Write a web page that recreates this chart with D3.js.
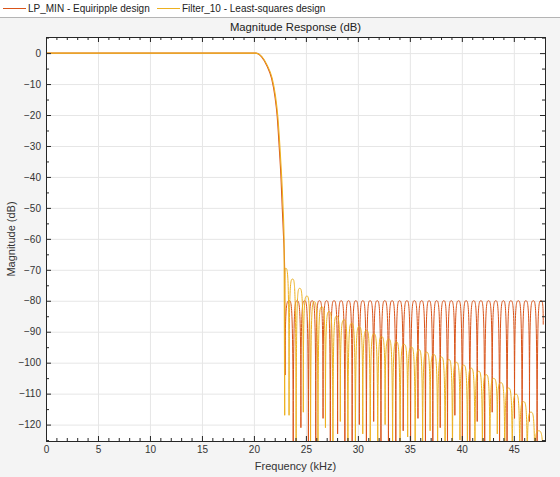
<!DOCTYPE html>
<html><head><meta charset="utf-8">
<script src="https://cdn.jsdelivr.net/npm/d3@7"></script>
<style>
html,body{margin:0;padding:0;background:#f4f4f4;}
svg{display:block;font-family:"Liberation Sans",Arial,sans-serif;}
</style></head>
<body>
<svg id="chart" width="560" height="477"></svg>
<script>
// ---------- data ----------
const seriesNames = ["LP_MIN - Equiripple design", "Filter_10 - Least-squares design"];
const xTickValues = [0, 5, 10, 15, 20, 25, 30, 35, 40, 45];
const yTickValues = [0, -10, -20, -30, -40, -50, -60, -70, -80, -90, -100, -110, -120];

// Equiripple: passband + transition
const eqTransFreq = [0, 20.19, 20.74, 21.22, 21.7, 22.02, 22.24, 22.43, 22.6, 22.72, 22.85, 22.95, 23.0];
const eqTransDb   = [0, 0, -1.2, -3.9, -8.2, -14, -20.5, -30.2, -40, -49.6, -59.3, -69, -104];
// Equiripple stopband: alternating null / peak vertices
const eqStopFreq = [23.0, 23.4, 23.78, 24.15, 24.52, 24.88, 25.24, 25.6, 25.95, 26.3, 26.65, 27.0, 27.35, 27.7,
  28.05, 28.4, 28.75, 29.1, 29.45, 29.8, 30.14, 30.48, 30.82, 31.17, 31.52, 31.87, 32.22, 32.58, 32.94, 33.3,
  33.65, 34.0, 34.36, 34.72, 35.07, 35.43, 35.78, 36.14, 36.5, 36.85, 37.21, 37.57, 37.92, 38.27, 38.62, 38.98,
  39.33, 39.69, 40.05, 40.41, 40.77, 41.13, 41.48, 41.84, 42.2, 42.56, 42.92, 43.27, 43.63, 44.0, 44.35, 44.71,
  45.07, 45.44, 45.8, 46.15, 46.51, 46.88, 47.24, 47.6, 47.83];
const eqStopDb = [-104, -80, -140, -80, -121, -80, -140, -80, -128, -80, -118, -80, -140, -80,
  -123, -80, -140, -80, -130, -80, -120, -80, -140, -80, -119, -80, -140, -80, -126, -80,
  -140, -80, -122, -80, -140, -80, -118, -80, -140, -80, -140, -80, -121, -80, -140, -80,
  -117, -80, -140, -80, -133, -80, -119, -80, -140, -80, -116, -80, -140, -80, -140, -80,
  -118, -80, -140, -80, -119, -80, -140, -80, -87.7];

// Least-squares: passband + transition
const lsTransFreq = [0, 20.2, 20.76, 21.26, 21.76, 22.08, 22.3, 22.5, 22.67, 22.8, 22.9, 22.96];
const lsTransDb   = [0, 0, -1.1, -3.8, -8.2, -14, -20.5, -30.2, -40, -49.6, -60, -117];
// Least-squares stopband: alternating null / peak vertices
const lsStopFreq = [22.96, 23.05, 23.38, 23.72, 24.06, 24.4, 24.75, 25.1, 25.45, 25.8, 26.16, 26.52, 26.88, 27.24,
  27.6, 27.95, 28.31, 28.68, 29.04, 29.4, 29.76, 30.12, 30.47, 30.83, 31.19, 31.55, 31.91, 32.27, 32.62, 32.98,
  33.34, 33.7, 34.06, 34.43, 34.79, 35.15, 35.51, 35.87, 36.23, 36.59, 36.95, 37.31, 37.67, 38.03, 38.39, 38.75,
  39.1, 39.46, 39.82, 40.18, 40.54, 40.9, 41.26, 41.62, 41.98, 42.34, 42.7, 43.05, 43.41, 43.77, 44.13, 44.49,
  44.85, 45.21, 45.57, 45.93, 46.29, 46.65, 47.01, 47.37, 47.83];
const lsStopDb = [-117, -69.5, -117, -73, -140, -76, -116, -78.5, -140, -80.3, -140, -82, -121, -83.5,
  -140, -85, -119, -86.2, -140, -87.3, -140, -88.4, -123, -89.6, -140, -90.7, -140, -91.6, -120, -92.4,
  -140, -93.3, -140, -94.1, -124, -95, -140, -95.8, -140, -96.6, -122, -97.4, -140, -98.2, -140, -99,
  -140, -99.9, -125, -100.8, -140, -101.8, -140, -102.8, -140, -103.9, -140, -105.1, -123, -106.5, -140, -108.2,
  -140, -110.2, -140, -112.6, -140, -116, -140, -122, -140];

const colors = ["#D95319", "#EDB120"];

// ---------- layout ----------
const svg = d3.select("#chart");
const W = 560, H = 477;
const m = {left: 46, right: 545, top: 37, bottom: 441};
const pw = m.right - m.left, ph = m.bottom - m.top;

svg.append("rect").attr("width", W).attr("height", H).attr("fill", "#f4f4f4");
// legend strip
svg.append("rect").attr("width", W).attr("height", 17).attr("fill", "#ffffff");
svg.append("line").attr("x1", 0).attr("x2", W).attr("y1", 17.5).attr("y2", 17.5).attr("stroke", "#b4b4b4");

const x = d3.scaleLinear().domain([0, 48]).range([m.left, m.right]);
const y = d3.scaleLinear().domain([-125.3, 5.2]).range([m.bottom, m.top]);

const g = svg.append("g");
g.append("rect").attr("x", m.left).attr("y", m.top).attr("width", pw).attr("height", ph).attr("fill", "#fff");

// grid
g.append("g").attr("transform", `translate(0,${m.bottom})`)
  .call(d3.axisBottom(x).tickValues(xTickValues).tickSize(-ph).tickFormat(""))
  .call(s => { s.select(".domain").remove(); s.selectAll("line").attr("stroke", "#e6e6e6"); });
g.append("g").attr("transform", `translate(${m.left},0)`)
  .call(d3.axisLeft(y).tickValues(yTickValues).tickSize(-pw).tickFormat(""))
  .call(s => { s.select(".domain").remove(); s.selectAll("line").attr("stroke", "#e6e6e6"); });

// curves
const defs = svg.append("defs");
defs.append("clipPath").attr("id", "clip").append("rect")
  .attr("x", m.left).attr("y", m.top).attr("width", pw).attr("height", ph);

// lobe-shaped curve: vertical rise from a null, rounded top at a peak
function Lobe(context) { this._c = context; }
Lobe.prototype = {
  areaStart() {}, areaEnd() {},
  lineStart() { this._p = 0; },
  lineEnd() {},
  point(px, py) {
    px = +px; py = +py;
    if (!this._p) { this._c.moveTo(px, py); this._p = 1; }
    else {
      const x0 = this._x, y0 = this._y;
      if (py < y0) this._c.bezierCurveTo(x0, py, x0 + 0.35 * (px - x0), py, px, py);
      else this._c.bezierCurveTo(x0 + 0.65 * (px - x0), y0, px, y0, px, py);
    }
    this._x = px; this._y = py;
  }
};
const curveLobe = c => new Lobe(c);

const lineTrans = d3.line().x(d => x(d[0])).y(d => y(d[1])).curve(d3.curveMonotoneX);
const lineStop = d3.line().x(d => x(d[0])).y(d => y(d[1])).curve(curveLobe);

const series = [
  {trans: d3.zip(eqTransFreq, eqTransDb), stop: d3.zip(eqStopFreq, eqStopDb), color: colors[0]},
  {trans: d3.zip(lsTransFreq, lsTransDb), stop: d3.zip(lsStopFreq, lsStopDb), color: colors[1]}
];
const plot = g.append("g").attr("clip-path", "url(#clip)");
series.forEach(s => {
  plot.append("path").attr("d", lineTrans(s.trans)).attr("fill", "none")
    .attr("stroke", s.color).attr("stroke-width", 1.1);
  plot.append("path").attr("d", lineStop(s.stop)).attr("fill", "none")
    .attr("stroke", s.color).attr("stroke-width", 1);
});

// axes
const axisColor = "#262626";
const xMinor = d3.range(0, 49, 1).filter(v => v % 5 !== 0);
const yMinor = d3.range(-125, 5.1, 5).filter(v => v % 10 !== 0);
function styleAxis(s) {
  s.select(".domain").attr("stroke", axisColor);
  s.selectAll(".tick line").attr("stroke", axisColor);
  s.selectAll("text").attr("fill", "#333").attr("font-size", "10px")
    .attr("font-family", "'Liberation Sans', Arial, sans-serif");
}
g.append("g").attr("transform", `translate(0,${m.bottom})`)
  .call(d3.axisBottom(x).tickValues(xTickValues).tickSizeInner(-5).tickSizeOuter(0).tickPadding(5).tickFormat(d3.format("d")))
  .call(styleAxis);
g.append("g").attr("transform", `translate(0,${m.bottom})`)
  .call(d3.axisBottom(x).tickValues(xMinor).tickSizeInner(-3).tickSizeOuter(0).tickFormat(""))
  .call(styleAxis);
g.append("g").attr("transform", `translate(0,${m.top})`)
  .call(d3.axisTop(x).tickValues(xTickValues).tickSizeInner(-5).tickSizeOuter(0).tickFormat(""))
  .call(styleAxis);
g.append("g").attr("transform", `translate(0,${m.top})`)
  .call(d3.axisTop(x).tickValues(xMinor).tickSizeInner(-3).tickSizeOuter(0).tickFormat(""))
  .call(styleAxis);
g.append("g").attr("transform", `translate(${m.left},0)`)
  .call(d3.axisLeft(y).tickValues(yTickValues).tickSizeInner(-5).tickSizeOuter(0).tickPadding(5).tickFormat(d3.format("d")))
  .call(styleAxis);
g.append("g").attr("transform", `translate(${m.left},0)`)
  .call(d3.axisLeft(y).tickValues(yMinor).tickSizeInner(-3).tickSizeOuter(0).tickFormat(""))
  .call(styleAxis);
g.append("g").attr("transform", `translate(${m.right},0)`)
  .call(d3.axisRight(y).tickValues(yTickValues).tickSizeInner(-5).tickSizeOuter(0).tickFormat(""))
  .call(styleAxis);
g.append("g").attr("transform", `translate(${m.right},0)`)
  .call(d3.axisRight(y).tickValues(yMinor).tickSizeInner(-3).tickSizeOuter(0).tickFormat(""))
  .call(styleAxis);

// titles
svg.append("text").attr("x", (m.left + m.right) / 2).attr("y", 31).attr("text-anchor", "middle")
  .attr("font-size", "11.3px").attr("fill", "#222").text("Magnitude Response (dB)");
svg.append("text").attr("x", (m.left + m.right) / 2).attr("y", 470).attr("text-anchor", "middle")
  .attr("font-size", "11px").attr("fill", "#333").text("Frequency (kHz)");
svg.append("text").attr("transform", `translate(15,${(m.top + m.bottom) / 2}) rotate(-90)`)
  .attr("text-anchor", "middle").attr("font-size", "11px").attr("fill", "#333").text("Magnitude (dB)");

// legend
const legX = [3, 157];
seriesNames.forEach((name, i) => {
  const lg = svg.append("g").attr("transform", `translate(${legX[i]},8.5)`);
  lg.append("line").attr("x1", 0).attr("x2", 23).attr("stroke", colors[i]).attr("stroke-width", 1);
  lg.append("text").attr("x", 25).attr("y", 3.5).attr("font-size", "10px").attr("fill", "#222").text(name);
});
</script>
</body></html>
